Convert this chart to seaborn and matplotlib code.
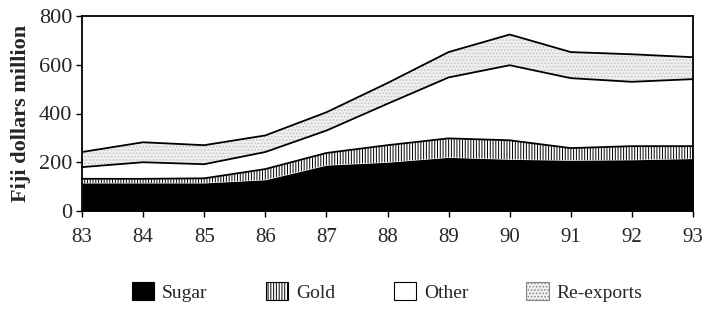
import numpy as np
import pandas as pd
import matplotlib
matplotlib.use('Agg')
import matplotlib.pyplot as plt
import seaborn as sns
from matplotlib.patches import Patch

# valeurs (millions de dollars fidjiens)
years = [83, 84, 85, 86, 87, 88, 89, 90, 91, 92, 93]
sugar = [115, 115, 115, 128, 188, 200, 220, 212, 208, 210, 215]
gold = [17, 17, 19, 44, 50, 70, 78, 78, 50, 56, 51]
other = [48, 68, 58, 70, 92, 170, 250, 308, 287, 264, 275]
reexports = [62, 82, 78, 68, 75, 85, 104, 126, 107, 113, 90]

df = pd.DataFrame({'Sugar': sugar, 'Gold': gold, 'Other': other,
                   'Re-exports': reexports}, index=years)

sns.set_style("white")
plt.rcParams['font.family'] = ['Liberation Serif', 'DejaVu Serif']
plt.rcParams['hatch.linewidth'] = 0.7

fig = plt.figure(figsize=(7.08, 3.12), dpi=100)
ax = fig.add_axes([82/708, 1 - 211/312, (693-82)/708, (211-16)/312])

faces = ['black', 'white', 'white', '#efefef']
hatches = [None, '||||||', None, '.....']
edges = ['black', 'black', 'black', '#c4c4c4']
polys = ax.stackplot(df.index, df.T.values, colors=faces, linewidth=0)
for p, h, e in zip(polys, hatches, edges):
    if h:
        p.set_hatch(h)
        p.set_edgecolor(e)

cum = df.cumsum(axis=1)
for col in ['Gold', 'Other', 'Re-exports']:
    sns.lineplot(x=cum.index, y=cum[col].values, ax=ax, color='black', lw=1.3)

ax.set_xlim(83, 93)
ax.set_ylim(0, 800)
ax.set_xticks(years)
ax.set_xticklabels([str(y) for y in years])
ax.set_yticks([0, 200, 400, 600, 800])
ax.tick_params(axis='both', direction='out', length=4,
               width=1, bottom=True, left=True, color='black')
ax.tick_params(axis='x', labelsize=15, pad=8)
ax.tick_params(axis='y', labelsize=16, pad=3)
for s in ax.spines.values():
    s.set_color('black')
    s.set_linewidth(1.3)
ax.set_xlabel('')
ax.set_ylabel('Fiji dollars million', fontsize=16, fontweight='bold', labelpad=6)

handles = [Patch(facecolor=f, edgecolor=e2, hatch=h, label=l, lw=0.8)
           for f, h, l, e2 in zip(['black', 'white', 'white', '#efefef'],
                                  [None, '||||||', None, '.....'],
                                  df.columns,
                                  ['black', 'black', 'black', '#888888'])]
fig.legend(handles=handles, loc='center', bbox_to_anchor=(0.547, 0.064),
           ncol=4, frameon=False, fontsize=14, handlelength=1.15,
           handleheight=1.05, columnspacing=3.0, handletextpad=0.4)

plt.savefig('out.png', dpi=100)
